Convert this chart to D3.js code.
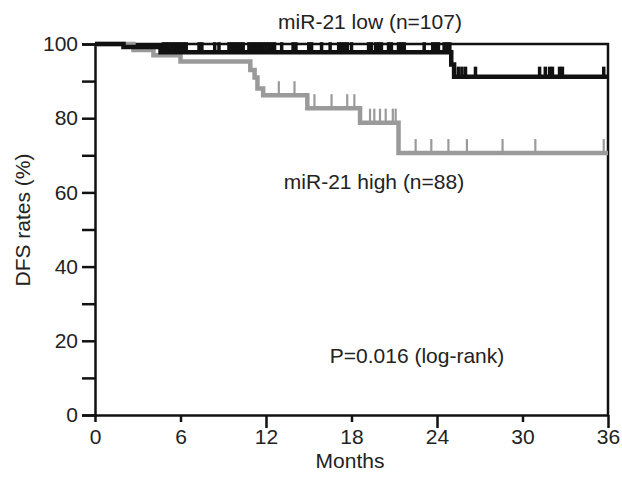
<!DOCTYPE html>
<html>
<head>
<meta charset="utf-8">
<script src="https://cdn.jsdelivr.net/npm/d3@7"></script>
<style>
  body { margin: 0; background: #fff; }
  text { font-family: "Liberation Sans", Arial, sans-serif; fill: #222; }
</style>
</head>
<body>
<div id="chart"></div>
<script>
// Kaplan-Meier steps
var lowTimes = [0, 2.0, 4.6, 25.0, 25.2, 36];
var lowSurv  = [100, 99.2, 97.8, 94.5, 91.2, 91.2];
var highTimes = [0, 2.7, 4.1, 6.0, 10.9, 11.2, 11.4, 11.8, 14.9, 18.6, 21.3, 36];
var highSurv  = [100, 98.4, 97.0, 95.3, 93.0, 91.0, 88.0, 86.2, 82.7, 78.8, 70.6, 70.6];

// censoring marks (months)
var lowCensor = [4.8, 5.0, 5.2, 5.4, 5.6, 5.8, 6.0, 6.2, 6.4, 7.3, 7.5, 8.4, 8.7,
  9.4, 9.6, 9.8, 10.0, 10.2, 10.4, 10.8, 11.0, 11.2, 11.4, 11.6, 11.8, 12.0, 12.2, 12.4, 12.6,
  13.1, 13.9, 14.1, 15.0, 15.2, 15.9, 16.5, 17.1, 17.3, 17.5, 17.7, 18.0, 19.2, 19.4,
  19.7, 19.9, 20.1, 20.6, 20.8, 21.3, 21.5, 21.7, 23.1, 23.7, 23.9, 24.1, 24.5, 24.7, 24.9,
  25.5, 25.75, 26.0, 26.7, 31.2, 31.6, 31.9, 32.1, 32.6, 32.8, 35.7];
var highCensor = [12.9, 14.0, 15.4, 16.6, 17.7, 18.2, 19.3, 19.6, 20.0, 20.4, 20.9, 21.1,
  22.5, 23.6, 24.8, 26.1, 28.6, 30.9, 35.7];

var xTicks = [0, 6, 12, 18, 24, 30, 36];
var yTicks = [0, 10, 20, 30, 40, 50, 60, 70, 80, 90, 100];
var yLabels = [0, 20, 40, 60, 80, 100];

var W = 622, H = 483;
var svg = d3.select("#chart").append("svg").attr("width", W).attr("height", H);

var x = d3.scaleLinear().domain([0, 36]).range([95, 608]);
var y = d3.scaleLinear().domain([0, 100]).range([415, 44]);

function survAt(times, surv, t) {
  var v = surv[0];
  for (var i = 0; i < times.length; i++) { if (times[i] <= t) v = surv[i]; }
  return v;
}

// frame top + right
svg.append("path")
  .attr("d", "M" + x(0) + "," + y(100) + "H" + x(36) + "V" + y(0))
  .attr("fill", "none").attr("stroke", "#111").attr("stroke-width", 2.5);

// y axis
var yAxis = svg.append("g").attr("transform", "translate(" + x(0) + ",0)")
  .call(d3.axisLeft(y).tickValues(yTicks).tickSize(13)
    .tickFormat(function (d) { return yLabels.indexOf(d) >= 0 ? d : ""; }));
yAxis.select(".domain").attr("stroke", "#111").attr("stroke-width", 2.5);
yAxis.selectAll(".tick line").attr("stroke", "#111").attr("stroke-width", 2.5);
yAxis.selectAll(".tick text").style("font-size", "21px").attr("x", -17).attr("fill", "#222");

// x axis
var xAxis = svg.append("g").attr("transform", "translate(0," + y(0) + ")")
  .call(d3.axisBottom(x).tickValues(xTicks).tickSizeOuter(0));
xAxis.select(".domain").attr("stroke", "#111").attr("stroke-width", 2.5);
xAxis.selectAll(".tick line").attr("stroke", "#111").attr("stroke-width", 2.5)
  .attr("y2", function (d) { return d % 12 === 0 && d > 0 ? 13 : 7; });
xAxis.selectAll(".tick text").style("font-size", "21px").attr("y", 14).attr("fill", "#222");

svg.append("text").attr("x", 350).attr("y", 468).attr("text-anchor", "middle")
  .style("font-size", "21px").text("Months");
svg.append("text").attr("transform", "translate(30,220) rotate(-90)")
  .attr("text-anchor", "middle").style("font-size", "21px").text("DFS rates (%)");

var line = d3.line().curve(d3.curveStepAfter)
  .x(function (d) { return x(d[0]); }).y(function (d) { return y(d[1]); });

function drawCurve(times, surv, censor, color, width, tickH, tickW) {
  var pts = times.map(function (t, i) { return [t, surv[i]]; });
  svg.append("path").datum(pts).attr("d", line)
    .attr("fill", "none").attr("stroke", color).attr("stroke-width", width);
  svg.append("g").selectAll("line").data(censor).join("line")
    .attr("x1", function (d) { return x(d); }).attr("x2", function (d) { return x(d); })
    .attr("y1", function (d) { return y(survAt(times, surv, d)); })
    .attr("y2", function (d) { return y(survAt(times, surv, d)) - tickH; })
    .attr("stroke", color).attr("stroke-width", tickW);
}

drawCurve(highTimes, highSurv, highCensor, "#9a9a9a", 4.5, 14, 2.2);
drawCurve(lowTimes, lowSurv, lowCensor, "#111", 4.5, 10, 3.5);

svg.append("text").attr("x", 370).attr("y", 29).attr("text-anchor", "middle")
  .style("font-size", "21px").text("miR-21 low (n=107)");
svg.append("text").attr("x", 374).attr("y", 189).attr("text-anchor", "middle")
  .style("font-size", "21px").text("miR-21 high (n=88)");
svg.append("text").attr("x", 417).attr("y", 363).attr("text-anchor", "middle")
  .style("font-size", "21px").text("P=0.016 (log-rank)");
</script>
</body>
</html>
